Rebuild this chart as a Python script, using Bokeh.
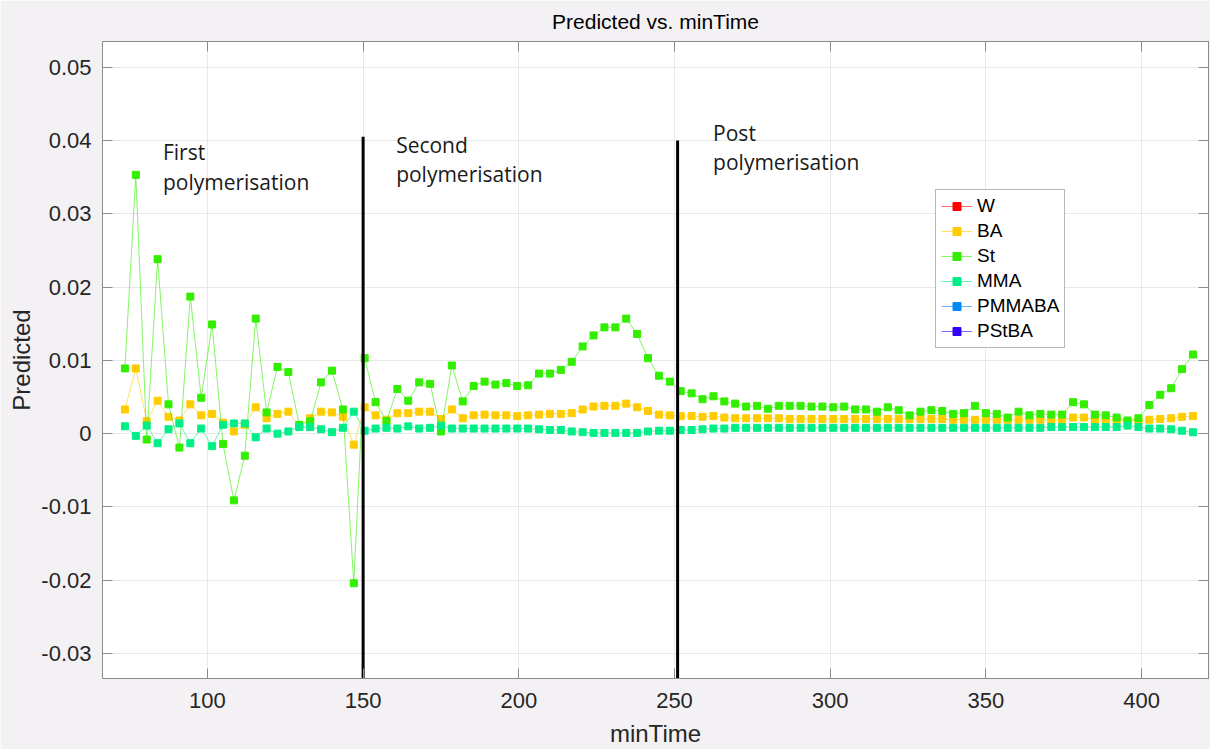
import math
from bokeh.plotting import figure
from bokeh.models import Legend, LegendItem, FixedTicker, LinearAxis, Range1d, ColumnDataSource
from bokeh.core.properties import value
from bokeh.embed import file_html
from bokeh.resources import INLINE

# ---------------- data ----------------
min_time = [73.5, 77, 80.5, 84, 87.5, 91, 94.5, 98, 101.5, 105, 108.5, 112, 115.5, 119, 122.5, 126,
            129.5, 133, 136.5, 140, 143.5, 147, 150.5, 154, 157.5, 161, 164.5, 168, 171.5, 175, 178.5,
            182, 185.5, 189, 192.5, 196, 199.5, 203, 206.5, 210, 213.5, 217, 220.5, 224, 227.5, 231,
            234.5, 238, 241.5, 245, 248.5, 252, 255.5, 259, 262.5, 266, 269.5, 273, 276.5, 280, 283.5,
            287, 290.5, 294, 297.5, 301, 304.5, 308, 311.5, 315, 318.5, 322, 325.5, 329, 332.5, 336,
            339.5, 343, 346.5, 350, 353.5, 357, 360.5, 364, 367.5, 371, 374.5, 378, 381.5, 385, 388.5,
            392, 395.5, 399, 402.5, 406, 409.5, 413, 416.5]

# W, PMMABA and PStBA have no visible values in the chart (legend entries only)
pred_W = [math.nan]
pred_BA = [0.0033, 0.0089, 0.0017, 0.0045, 0.0023, 0.0018, 0.0040, 0.0025, 0.0027, 0.0015,
           0.0003, 0.0012, 0.0036, 0.0021, 0.0027, 0.0030, 0.0010, 0.0021, 0.0030, 0.0029,
           0.0023, -0.0015, 0.0036, 0.0025, 0.0019, 0.0028, 0.0028, 0.0030, 0.0030, 0.0020,
           0.0033, 0.0021, 0.0025, 0.0026, 0.0025, 0.0025, 0.0024, 0.0025, 0.0026, 0.0027,
           0.0027, 0.0028, 0.0033, 0.0037, 0.0038, 0.0038, 0.0041, 0.0036, 0.0031, 0.0026,
           0.0025, 0.0024, 0.0024, 0.0023, 0.0024, 0.0022, 0.0021, 0.0021, 0.0021, 0.0021,
           0.0021, 0.0020, 0.0020, 0.0020, 0.0020, 0.0020, 0.0020, 0.0020, 0.0020, 0.0020,
           0.0020, 0.0020, 0.0020, 0.0020, 0.0020, 0.0020, 0.0019, 0.0019, 0.0019, 0.0019,
           0.0019, 0.0019, 0.0019, 0.0019, 0.0019, 0.0019, 0.0019, 0.0022, 0.0022, 0.0019,
           0.0019, 0.0018, 0.0017, 0.0018, 0.0019, 0.0020, 0.0021, 0.0023, 0.0024]
pred_St = [0.0089, 0.0353, -0.0008, 0.0238, 0.0040, -0.0019, 0.0187, 0.0049, 0.0149, -0.0014,
           -0.0091, -0.0030, 0.0157, 0.0029, 0.0091, 0.0084, 0.0012, 0.0017, 0.0070, 0.0086,
           0.0033, -0.0204, 0.0103, 0.0043, 0.0017, 0.0061, 0.0045, 0.0070, 0.0068, 0.0003,
           0.0093, 0.0044, 0.0065, 0.0071, 0.0067, 0.0069, 0.0065, 0.0066, 0.0082, 0.0082,
           0.0087, 0.0098, 0.0119, 0.0134, 0.0145, 0.0145, 0.0157, 0.0136, 0.0103, 0.0079,
           0.0071, 0.0058, 0.0055, 0.0047, 0.0051, 0.0044, 0.0041, 0.0037, 0.0038, 0.0034,
           0.0038, 0.0038, 0.0038, 0.0037, 0.0037, 0.0036, 0.0037, 0.0033, 0.0033, 0.0030,
           0.0036, 0.0032, 0.0025, 0.0030, 0.0032, 0.0031, 0.0027, 0.0028, 0.0038, 0.0028,
           0.0027, 0.0022, 0.0030, 0.0025, 0.0027, 0.0026, 0.0026, 0.0043, 0.0040, 0.0026,
           0.0025, 0.0022, 0.0018, 0.0021, 0.0039, 0.0053, 0.0062, 0.0088, 0.0108]
pred_MMA = [0.0010, -0.0003, 0.0011, -0.0013, 0.0006, 0.0014, -0.0013, 0.0007, -0.0017, 0.0012,
            0.0014, 0.0014, -0.0005, 0.0007, 0.0000, 0.0003, 0.0009, 0.0009, 0.0006, 0.0002,
            0.0008, 0.0030, 0.0004, 0.0007, 0.0008, 0.0007, 0.0010, 0.0007, 0.0008, 0.0011,
            0.0007, 0.0007, 0.0007, 0.0007, 0.0007, 0.0007, 0.0007, 0.0007, 0.0006, 0.0005,
            0.0005, 0.0003, 0.0002, 0.0001, 0.0001, 0.0001, 0.0001, 0.0001, 0.0003, 0.0004,
            0.0004, 0.0005, 0.0005, 0.0006, 0.0007, 0.0007, 0.0008, 0.0008, 0.0008, 0.0008,
            0.0008, 0.0008, 0.0008, 0.0008, 0.0008, 0.0008, 0.0008, 0.0008, 0.0008, 0.0008,
            0.0008, 0.0008, 0.0008, 0.0008, 0.0008, 0.0008, 0.0008, 0.0008, 0.0008, 0.0008,
            0.0008, 0.0008, 0.0008, 0.0008, 0.0008, 0.0009, 0.0009, 0.0009, 0.0009, 0.0009,
            0.0009, 0.0009, 0.0011, 0.0009, 0.0007, 0.0007, 0.0006, 0.0004, 0.0002]
pred_PMMABA = [math.nan]
pred_PStBA = [math.nan]

series_names = ["W", "BA", "St", "MMA", "PMMABA", "PStBA"]
series_values = [pred_W, pred_BA, pred_St, pred_MMA, pred_PMMABA, pred_PStBA]
series_colors = ["#ff0000", "#ffcc00", "#33ee00", "#00ee88", "#0088ff", "#3300ff"]

x_ticks = [100, 150, 200, 250, 300, 350, 400]
y_ticks = [-0.03, -0.02, -0.01, 0, 0.01, 0.02, 0.03, 0.04, 0.05]
y_tick_labels = ["-0.03", "-0.02", "-0.01", "0", "0.01", "0.02", "0.03", "0.04", "0.05"]

divider_x = [150, 251]
divider_top = [0.0405, 0.0400]

ann_x = [85.7, 85.7, 160.6, 160.6, 262.4, 262.4]
ann_y = [0.0384, 0.0343, 0.0394, 0.0354, 0.0410, 0.0371]
ann_text = ["First", "polymerisation", "Second", "polymerisation", "Post", "polymerisation"]

# ---------------- figure ----------------
Y0, Y1 = -0.0334, 0.0535
p = figure(width=1210, height=749, x_range=Range1d(66.3, 421.5), y_range=Range1d(Y0, Y1),
           output_backend="svg", toolbar_location=None,
           min_border_left=102, min_border_right=2, min_border_top=41, min_border_bottom=70,
           background_fill_color="white", border_fill_color="#f4f1f4",
           title="Predicted vs. minTime")

p.title.align = "center"
p.title.vertical_align = "top"
p.title.text_font = "Liberation Sans"
p.title.text_font_size = "21px"
p.title.text_font_style = "normal"
p.title.text_color = "#000000"
p.title.standoff = 14

AX = "#8c8c8c"
TXT = "#262626"
p.outline_line_color = AX

for ax in p.xaxis:
    ax.ticker = FixedTicker(ticks=x_ticks)
for ax in p.yaxis:
    ax.ticker = FixedTicker(ticks=y_ticks)
    ax.major_label_overrides = dict(zip(y_ticks, y_tick_labels))

for ax in list(p.xaxis) + list(p.yaxis):
    ax.axis_line_color = AX
    ax.major_tick_line_color = AX
    ax.major_tick_in = 10
    ax.major_tick_out = 0
    ax.minor_tick_line_color = None
    ax.major_label_text_font = "Liberation Sans"
    ax.major_label_text_font_size = "22px"
    ax.major_label_text_color = TXT
    ax.axis_label_text_font = "Liberation Sans"
    ax.axis_label_text_font_size = "24px"
    ax.axis_label_text_font_style = "normal"
    ax.axis_label_text_color = TXT

p.xaxis.axis_label = "minTime"
p.yaxis.axis_label = "Predicted"
p.xaxis.major_label_standoff = 14
p.xaxis.axis_label_standoff = 9
p.yaxis.major_label_standoff = 11
p.yaxis.axis_label_standoff = 3

top_ax = LinearAxis(ticker=FixedTicker(ticks=x_ticks), major_label_text_font_size="0px",
                    major_label_standoff=0, major_tick_in=10, major_tick_out=0,
                    minor_tick_line_color=None, axis_line_color=AX, major_tick_line_color=AX)
right_ax = LinearAxis(ticker=FixedTicker(ticks=y_ticks), major_label_text_font_size="0px",
                      major_label_standoff=0, major_tick_in=10, major_tick_out=0,
                      minor_tick_line_color=None, axis_line_color=AX, major_tick_line_color=AX)
p.add_layout(top_ax, "above")
p.add_layout(right_ax, "right")

p.xgrid.ticker = FixedTicker(ticks=x_ticks)
p.ygrid.ticker = FixedTicker(ticks=y_ticks)
p.xgrid.grid_line_color = "#e8e8e8"
p.ygrid.grid_line_color = "#e8e8e8"

items = []
for name, vals, col in zip(series_names, series_values, series_colors):
    src = ColumnDataSource(dict(x=min_time[:len(vals)], y=vals))
    lr = p.line("x", "y", source=src, line_color=col, line_width=1, line_alpha=0.6)
    sr = p.scatter("x", "y", source=src, marker="square", size=7, fill_color=col, line_color=col)
    items.append(LegendItem(label=name, renderers=[lr, sr]))

p.segment(x0=divider_x, y0=divider_top, x1=divider_x, y1=[Y0 - 0.01] * len(divider_x),
          line_color="black", line_width=3)

p.text(x=ann_x, y=ann_y, text=ann_text, text_font=value("Open Sans"), text_font_size="21px",
       text_color="#1a1a1a", text_baseline="alphabetic", text_align="left")

legend = Legend(items=items, location=(833, 330))
legend.label_text_font = "Liberation Sans"
legend.label_text_font_size = "19px"
legend.label_text_color = "#000000"
legend.border_line_color = "#707070"
legend.background_fill_color = "white"
legend.background_fill_alpha = 1
legend.glyph_width = 31
legend.glyph_height = 20
legend.label_height = 20
legend.spacing = 3
legend.padding = 5
legend.margin = 0
legend.label_standoff = 5
p.add_layout(legend)

open("out.html", "w").write(file_html(p, INLINE))
